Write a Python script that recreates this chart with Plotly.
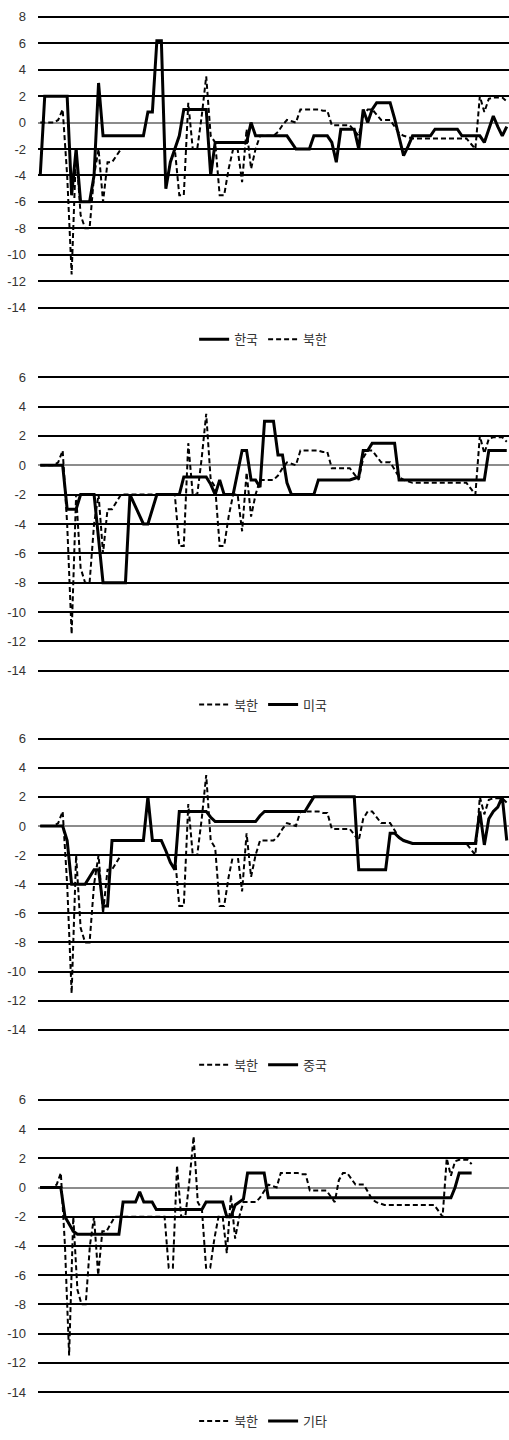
import plotly.graph_objects as go

# time index (categories)
t = list(range(105))

nk = [0, 0, 0, 0, 0.2,
      1, -4, -11.5, -2, -7,
      -8, -8, -4, -2, -6,
      -3, -3, -2.5, -2, -2,
      -2, -2, -2, -2, -2,
      -2, -2, -2, -2, -2,
      -2, -5.5, -5.5, 1.5, -2,
      -2, 0.5, 3.5, -1, -1.5,
      -5.5, -5.5, -3.5, -2, -2,
      -4.5, -0.5, -3.5, -2, -1,
      -1, -1, -1, -0.7, -0.2,
      0.2, 0.1, 0, 1, 1,
      1, 1, 1, 0.9, 0.9,
      -0.2, -0.2, -0.2, -0.2, -0.2,
      -0.6, -1, 0.5, 1, 1,
      0.6, 0.2, 0.2, 0.2, -0.3,
      -0.8, -1, -1.1, -1.2, -1.2,
      -1.2, -1.2, -1.2, -1.2, -1.2,
      -1.2, -1.2, -1.2, -1.2, -1.2,
      -1.2, -1.6, -2, 2, 0.8,
      1.8, 1.9, 1.9, 1.9, 1.6]

korea = [-4, 2, 2, 2, 2,
         2, 2, -5.5, -2, -6,
         -6, -6, -4, 3, -1,
         -1, -1, -1, -1, -1,
         -1, -1, -1, -1, 0.8,
         0.8, 6.2, 6.2, -5, -3,
         -2, -1, 1, 1, 1,
         1, 1, 1, -4, -1.5,
         -1.5, -1.5, -1.5, -1.5, -1.5,
         -1.5, -1.5, 0, -1, -1,
         -1, -1, -1, -1, -1,
         -1, -1.5, -2, -2, -2,
         -2, -1, -1, -1, -1,
         -1.5, -3, -0.5, -0.5, -0.5,
         -0.5, -2, 1, 0, 1,
         1.5, 1.5, 1.5, 1.5, 0.3,
         -1.2, -2.5, -1.8, -1, -1,
         -1, -1, -1, -0.5, -0.5,
         -0.5, -0.5, -0.5, -0.5, -1,
         -1, -1, -1, -1, -1.5,
         -0.5, 0.5, -0.3, -1, -0.3]

usa = [0, 0, 0, 0, 0,
       0, -3, -3, -3, -2,
       -2, -2, -2, -5, -8,
       -8, -8, -8, -8, -8,
       -2, -2.7, -3.3, -4, -4,
       -3, -2, -2, -2, -2,
       -2, -2, -0.8, -0.8, -0.8,
       -0.8, -0.8, -0.8, -1.3, -2,
       -1, -2, -2, -2, -0.5,
       1, 1, -1, -1, -1.5,
       3, 3, 3, 0.7, 0.7,
       -1.2, -2, -2, -2, -2,
       -2, -2, -1, -1, -1,
       -1, -1, -1, -1, -1,
       -0.9, -0.8, 1, 1, 1.5,
       1.5, 1.5, 1.5, 1.5, 1.5,
       -1, -1, -1, -1, -1,
       -1, -1, -1, -1, -1,
       -1, -1, -1, -1, -1,
       -1, -1, -1, -1, -1,
       1, 1, 1, 1, 1]

china = [0, 0, 0, 0, 0,
         0, -1, -4, -4, -4,
         -4, -3.5, -3, -3, -5.5,
         -5.5, -1, -1, -1, -1,
         -1, -1, -1, -1, 2,
         -1, -1, -1, -1.7, -2.5,
         -3, 1, 1, 1, 1,
         1, 1, 1, 0.6, 0.3,
         0.3, 0.3, 0.3, 0.3, 0.3,
         0.3, 0.3, 0.3, 0.3, 0.7,
         1, 1, 1, 1, 1,
         1, 1, 1, 1, 1,
         1.5, 2, 2, 2, 2,
         2, 2, 2, 2, 2,
         2, -3, -3, -3, -3,
         -3, -3, -3, -0.5, -0.5,
         -0.8, -1, -1.1, -1.2, -1.2,
         -1.2, -1.2, -1.2, -1.2, -1.2,
         -1.2, -1.2, -1.2, -1.2, -1.2,
         -1.2, -1.2, -1.2, 1, -1.3,
         0.5, 1, 1.3, 2, -1]

other = [0, 0, 0, 0, 0,
         0, -2, -2.5, -3, -3.2,
         -3.2, -3.2, -3.2, -3.2, -3.2,
         -3.2, -3.2, -3.2, -3.2, -3.2,
         -1, -1, -1, -1, -0.3,
         -1, -1, -1, -1.5, -1.5,
         -1.5, -1.5, -1.5, -1.5, -1.5,
         -1.5, -1.5, -1.5, -1.5, -1.5,
         -1, -1, -1, -1, -1,
         -2, -2, -1.2, -1, -0.8,
         1, 1, 1, 1, 1,
         -0.7, -0.7, -0.7, -0.7, -0.7,
         -0.7, -0.7, -0.7, -0.7, -0.7,
         -0.7, -0.7, -0.7, -0.7, -0.7,
         -0.7, -0.7, -0.7, -0.7, -0.7,
         -0.7, -0.7, -0.7, -0.7, -0.7,
         -0.7, -0.7, -0.7, -0.7, -0.7,
         -0.7, -0.7, -0.7, -0.7, -0.7,
         -0.7, -0.7, -0.7, -0.7, -0.7,
         -0.7, -0.7, -0.7, -0.7, -0.7,
         0, 1, 1, 1, 1]

ticks_p1 = [8, 6, 4, 2, 0, -2, -4, -6, -8, -10, -12, -14]
ticks_p = [6, 4, 2, 0, -2, -4, -6, -8, -10, -12, -14]

name_nk = "북한"
panels = [
    ("", "한국", korea, True),
    ("2", "미국", usa, False),
    ("3", "중국", china, False),
    ("4", "기타", other, False),
]

W, H = 509, 1440
areas = [(10, 310, [-14.3, 8.3]), (372, 675, [-14.27, 6.27]),
         (735, 1036, [-14.29, 6.29]), (1098, 1400, [-14.29, 6.29])]
legend_y = [338, 705, 1067, 1425]
x_ranges = [[-0.5, 104.5], [-0.5, 104.5], [-0.5, 104.5], [-0.5, 113.0]]

solid = dict(color="black", width=3)
dashed = dict(color="black", width=2, dash="5px,3px")

fig = go.Figure()
for i, (suf, cname, cvals, cfirst) in enumerate(panels):
    xa = "x" + suf
    ya = "y" + suf
    lg = "legend" + suf
    tr_c = go.Scatter(x=t, y=cvals, name=cname, mode="lines", line=solid,
                      xaxis=xa, yaxis=ya, legend=lg)
    tr_n = go.Scatter(x=t, y=nk, name=name_nk, mode="lines", line=dashed,
                      xaxis=xa, yaxis=ya, legend=lg)
    if cfirst:
        fig.add_trace(tr_c)
        fig.add_trace(tr_n)
    else:
        fig.add_trace(tr_n)
        fig.add_trace(tr_c)

layout = dict(
    width=W, height=H, autosize=False,
    margin=dict(l=38, r=0, t=0, b=0),
    paper_bgcolor="white", plot_bgcolor="white",
    font=dict(family="Noto Sans CJK KR, Liberation Sans, sans-serif", size=12, color="#333333"),
)
for i, (suf, cname, cvals, cfirst) in enumerate(panels):
    top, bot, yr = areas[i]
    dom = [1 - bot / H, 1 - top / H]
    layout["xaxis" + suf] = dict(domain=[0, 1], range=x_ranges[i], showgrid=False,
                                 zeroline=False, showticklabels=False, showline=False,
                                 ticks="", anchor="y" + suf, fixedrange=True)
    tv = ticks_p1 if i == 0 else ticks_p
    layout["yaxis" + suf] = dict(domain=dom, range=yr, tickvals=tv,
                                 ticktext=[str(v) for v in tv],
                                 showgrid=True, gridcolor="black", gridwidth=2,
                                 zeroline=True, zerolinecolor="#8c8c8c", zerolinewidth=2,
                                 showline=False, ticks="", anchor="x" + suf,
                                 tickfont=dict(family="Liberation Sans, Arial, sans-serif",
                                               size=13, color="#333333"),
                                 ticklabelstandoff=11, fixedrange=True)
    layout["legend" + suf] = dict(
        orientation="h", x=0.478, xanchor="center",
        y=1 - legend_y[i] / H, yanchor="middle",
        font=dict(family="Noto Sans CJK KR, sans-serif", size=13, color="#333333"),
        bgcolor="rgba(0,0,0,0)", itemclick=False, itemdoubleclick=False,
        tracegroupgap=0,
    )

fig.update_layout(**layout)
fig.write_html("out.html", config={"displayModeBar": False},
               post_script="document.body.style.margin='0';document.body.style.padding='0';")
